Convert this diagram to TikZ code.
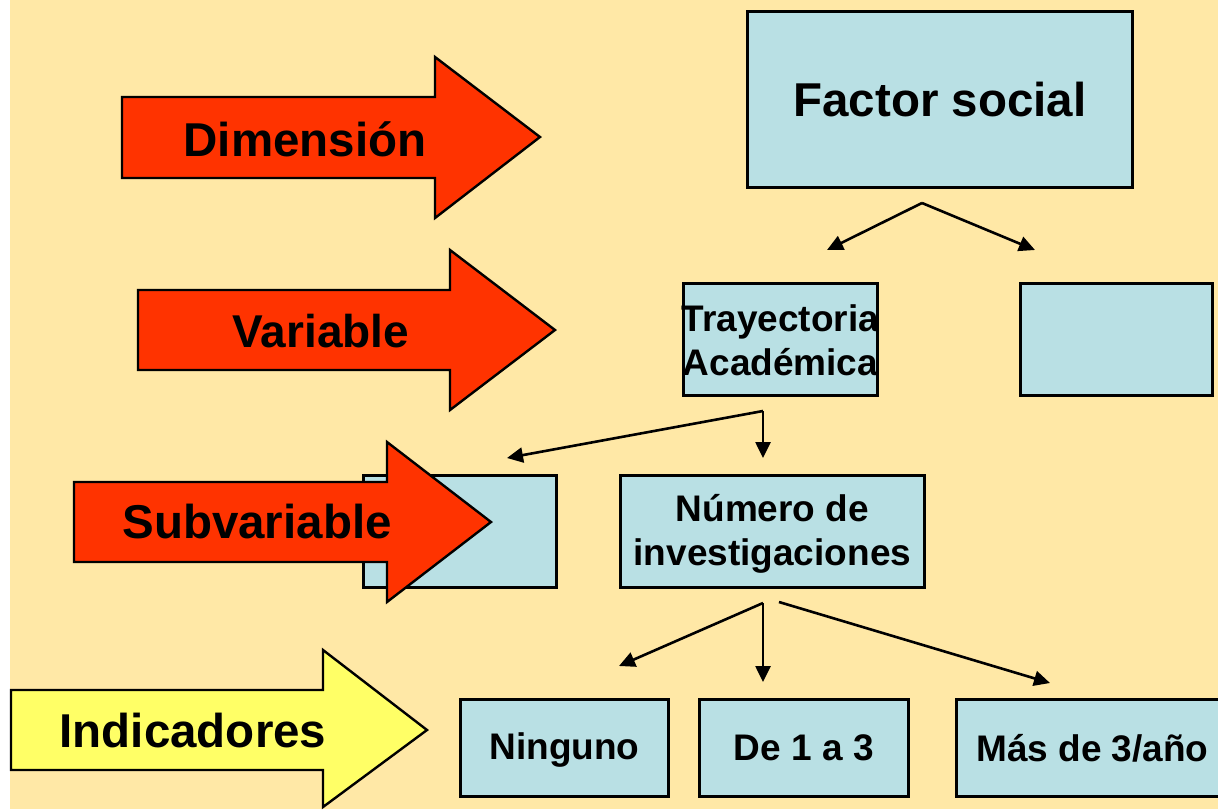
\documentclass[tikz,border=0pt]{standalone}
\usepackage{fontspec}
\setmainfont{Liberation Sans}
\usetikzlibrary{arrows.meta}
\definecolor{bg}{HTML}{FFE8A6}
\definecolor{boxc}{HTML}{B9E0E4}
\definecolor{redarr}{HTML}{FF3300}
\definecolor{yelarr}{HTML}{FFFF66}
\begin{document}
\begin{tikzpicture}[x=1pt,y=-1pt,
  box/.style={draw=black,line width=2.8pt,fill=boxc,inner sep=0pt,anchor=north west},
  boxtext/.style={font=\bfseries\fontsize{37}{44}\selectfont,align=center,inner sep=0pt},
  bigtext/.style={font=\bfseries\fontsize{47.5}{52}\selectfont,inner sep=0pt},
  bigarrow/.style={draw=black,line width=2.4pt,line join=miter},
  conn/.style={line width=2.6pt,-{Triangle[length=16pt,width=15pt]}}]
\useasboundingbox (0,0) rectangle (1218,809);
\fill[white] (0,0) rectangle (1218,809);
\fill[bg] (10,0) rectangle (1218,809);

% boxes
\node[box,minimum width=385pt,minimum height=176pt] (fs) at (746,10) {};
\node[bigtext] at (fs.center) {Factor social};
\node[box,minimum width=194pt,minimum height=112pt] (tray) at (682,282) {};
\node[boxtext] at ([yshift=-1pt]tray.center) {Trayectoria\\Académica};
\node[box,minimum width=192pt,minimum height=112pt] (var2) at (1019,282) {};
\node[box,minimum width=193pt,minimum height=112pt] (sub1) at (362,474) {};
\node[box,minimum width=304pt,minimum height=112pt] (num) at (619,474) {};
\node[boxtext] at ([yshift=-2pt]num.center) {Número de\\investigaciones};
\node[box,minimum width=208pt,minimum height=97pt] (nin) at (459,698) {};
\node[boxtext] at ([yshift=-2pt]nin.center) {Ninguno};
\node[box,minimum width=209pt,minimum height=97pt] (de13) at (698,698) {};
\node[boxtext] at (de13.center) {De 1 a 3};
\node[box,minimum width=272pt,minimum height=97pt] (mas) at (955,698) {};
\node[boxtext] at (mas.center) {Más de 3/año};

% big arrows
\draw[bigarrow,fill=redarr] (122,97) -- (435,97) -- (435,57) -- (540,137) -- (435,218) -- (435,178) -- (122,178) -- cycle;
\node[bigtext] (dim) at (305,139) {Dimensión};
\draw[bigarrow,fill=redarr] (138,290) -- (450,290) -- (450,250) -- (555,330) -- (450,410) -- (450,370) -- (138,370) -- cycle;
\node[bigtext,font=\bfseries\fontsize{46}{50}\selectfont] (varl) at (321,331) {Variable};
\draw[bigarrow,fill=redarr] (74,482) -- (387,482) -- (387,442) -- (491,522) -- (387,602) -- (387,562) -- (74,562) -- cycle;
\node[bigtext] (subl) at (257,522) {Subvariable};
\draw[bigarrow,fill=yelarr] (11,690) -- (323,690) -- (323,650) -- (427,730) -- (323,807) -- (323,770) -- (11,770) -- cycle;
\node[bigtext] (ind) at (193,731) {Indicadores};

% connector points
\coordinate (fsj) at (922,203);
\coordinate (trayin) at (827,250);
\coordinate (var2in) at (1035,250);
\coordinate (trayj) at (763,411);
\coordinate (sub1in) at (507,458);
\coordinate (numin) at (763,458);
\coordinate (numj) at (763,603);
\coordinate (numj2) at (779,602);
\coordinate (ninin) at (619,666);
\coordinate (de13in) at (763,682);
\coordinate (masin) at (1050,683);

\draw[conn] (fsj) -- (trayin);
\draw[conn] (fsj) -- (var2in);
\draw[conn] (trayj) -- (sub1in);
\draw[conn] (trayj) -- (numin);
\draw[conn] (numj) -- (ninin);
\draw[conn] (numj) -- (de13in);
\draw[conn] (numj2) -- (masin);
\end{tikzpicture}
\end{document}
